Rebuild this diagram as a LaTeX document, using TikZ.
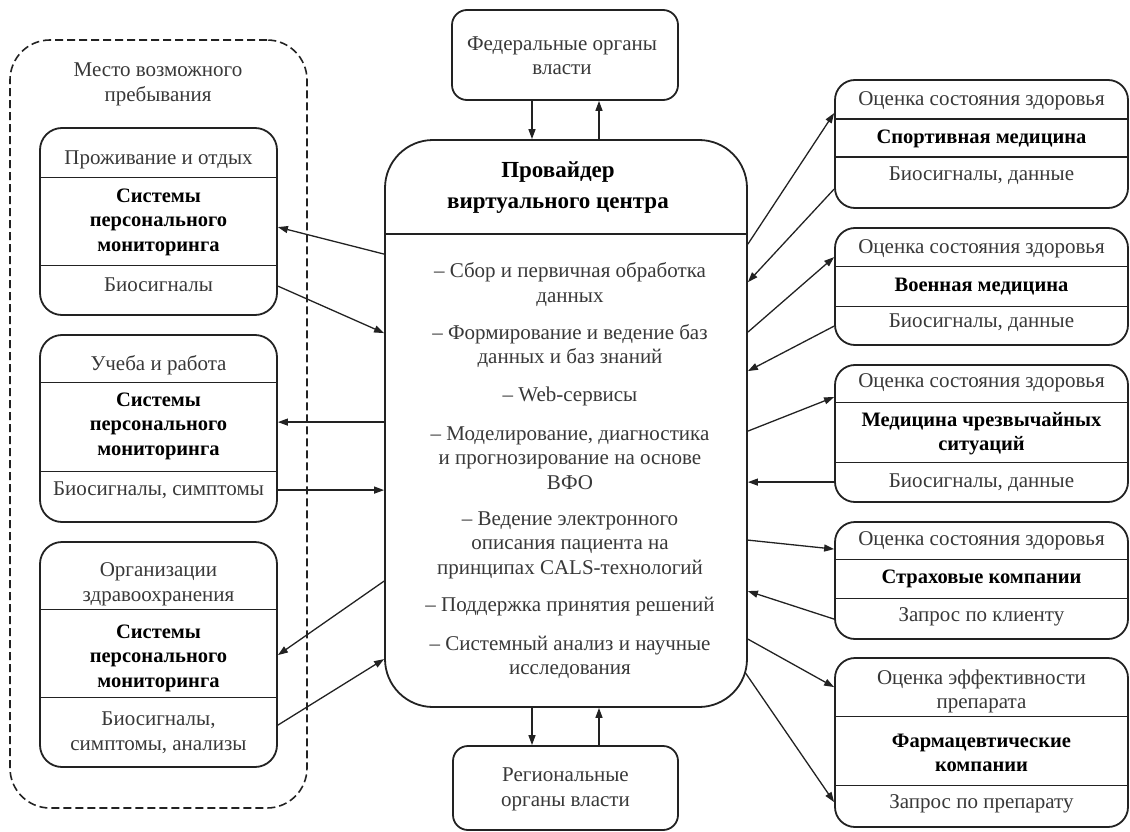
\documentclass[tikz,border=0pt]{standalone}
\usepackage{fontspec}
\setmainfont{Liberation Serif}
\usepackage{xcolor}
\usepackage{tikz}
\usetikzlibrary{arrows.meta,calc}
\definecolor{ink}{HTML}{222222}
\definecolor{txtgray}{HTML}{383838}

\begin{document}
\begin{tikzpicture}[
      x=1pt, y=-1pt,
      box/.style={draw=ink, line width=1.8pt, rounded corners=22pt, inner sep=0pt},
      rbox/.style={box, rounded corners=20pt, minimum width=293pt},
      lbox/.style={box, minimum width=237pt},
      sep/.style={draw=ink, line width=1.2pt},
      txt/.style={font=\fontsize{21}{24.5}\selectfont, text=txtgray, align=center, inner sep=0pt},
      bld/.style={font=\fontsize{20.5}{24.5}\selectfont\bfseries, text=black, align=center, inner sep=0pt},
      arr/.style={draw=ink, line width=1.3pt, -{Triangle[length=10pt,width=7pt]}}
  ]
    \useasboundingbox (0,0) rectangle (1130,832);
    % place of stay
    \node[draw=ink, line width=1.6pt, dash pattern=on 8pt off 4pt, rounded corners=40pt,
          minimum width=297pt, minimum height=768pt, inner sep=0pt] (place) at (158.5,424) {};
    \node[txt] (placet) at (158,84.5) {Место возможного\\пребывания};

    % left column
    \node[lbox, minimum height=187pt] (liv) at (158.5,221.5) {};
    \draw[sep] ($(liv.north west)+(0,50)$) -- ($(liv.north east)+(0,50)$);
    \draw[sep] ($(liv.north west)+(0,138)$) -- ($(liv.north east)+(0,138)$);
    \node[txt] (livh) at (158.5,160) {Проживание и отдых};
    \node[bld] (livb) at (158.5,222) {Системы\\персонального\\мониторинга};
    \node[txt] (livs) at (158.5,285) {Биосигналы};

    \node[lbox, minimum height=187pt] (stud) at (158.5,428.5) {};
    \draw[sep] ($(stud.north west)+(0,48)$) -- ($(stud.north east)+(0,48)$);
    \draw[sep] ($(stud.north west)+(0,137)$) -- ($(stud.north east)+(0,137)$);
    \node[txt] (studh) at (158.5,365) {Учеба и работа};
    \node[bld] (studb) at (158.5,426) {Системы\\персонального\\мониторинга};
    \node[txt] (studs) at (158.5,490) {Биосигналы, симптомы};

    \node[lbox, minimum height=225pt] (org) at (158.5,654.5) {};
    \draw[sep] ($(org.north west)+(0,68)$) -- ($(org.north east)+(0,68)$);
    \draw[sep] ($(org.north west)+(0,156)$) -- ($(org.north east)+(0,156)$);
    \node[txt] (orgh) at (158.5,584.5) {Организации\\здравоохранения};
    \node[bld] (orgb) at (158.5,658) {Системы\\персонального\\мониторинга};
    \node[txt] (orgs) at (158.5,732.5) {Биосигналы,\\симптомы, анализы};

    % centre
    \node[box, rounded corners=48pt, minimum width=362pt, minimum height=567pt] (prov) at (566,423.5) {};
    \draw[sep, line width=1.6pt] ($(prov.north west)+(0,95)$) -- ($(prov.north east)+(0,95)$);
    \node[font=\fontsize{23}{31}\selectfont\bfseries, align=center, inner sep=0pt] (provt) at (558,187.5) {Провайдер\\виртуального центра};
    \node[txt] (it1) at (570,284.5) {– Сбор и первичная обработка\\данных};
    \node[txt] (it2) at (570,346) {– Формирование и ведение баз\\данных и баз знаний};
    \node[txt] (it3) at (570,396) {– Web-сервисы};
    \node[txt] (it4) at (570,458) {– Моделирование, диагностика\\и прогнозирование на основе\\ВФО};
    \node[txt] (it5) at (570,545) {– Ведение электронного\\описания пациента на\\принципах CALS-технологий};
    \node[txt] (it6) at (570,607) {– Поддержка принятия решений};
    \node[txt] (it7) at (570,657.5) {– Системный анализ и научные\\исследования};

    \node[box, rounded corners=15pt, minimum width=226pt, minimum height=90pt] (fed) at (565,55) {};
    \node[txt] (fedt) at (562,55.5) {Федеральные органы\\власти};
    \node[box, rounded corners=15pt, minimum width=225pt, minimum height=84pt] (reg) at (565.5,788) {};
    \node[txt] (regt) at (565.5,789.5) {Региональные\\органы власти};

    % right column
    \node[rbox, minimum height=128pt] (sport) at (981.5,144) {};
    \draw[sep] ($(sport.north west)+(0,40)$) -- ($(sport.north east)+(0,40)$);
    \draw[sep] ($(sport.north west)+(0,78)$) -- ($(sport.north east)+(0,78)$);
    \node[txt] (sporth) at (981.5,101) {Оценка состояния здоровья};
    \node[bld] (sportb) at (981.5,139) {Спортивная медицина};
    \node[txt] (sports) at (981.5,176) {Биосигналы, данные};

    \node[rbox, minimum height=117pt] (mil) at (981.5,286.5) {};
    \draw[sep] ($(mil.north west)+(0,39)$) -- ($(mil.north east)+(0,39)$);
    \draw[sep] ($(mil.north west)+(0,79)$) -- ($(mil.north east)+(0,79)$);
    \node[txt] (milh) at (981.5,249) {Оценка состояния здоровья};
    \node[bld] (milb) at (981.5,287) {Военная медицина};
    \node[txt] (mils) at (981.5,323) {Биосигналы, данные};

    \node[rbox, minimum height=137pt] (emer) at (981.5,433.5) {};
    \draw[sep] ($(emer.north west)+(0,38)$) -- ($(emer.north east)+(0,38)$);
    \draw[sep] ($(emer.north west)+(0,98)$) -- ($(emer.north east)+(0,98)$);
    \node[txt] (emerh) at (981.5,383) {Оценка состояния здоровья};
    \node[bld] (emerb) at (981.5,433.5) {Медицина чрезвычайных\\ситуаций};
    \node[txt] (emers) at (981.5,483) {Биосигналы, данные};

    \node[rbox, minimum height=117pt] (ins) at (981.5,580.5) {};
    \draw[sep] ($(ins.north west)+(0,38)$) -- ($(ins.north east)+(0,38)$);
    \draw[sep] ($(ins.north west)+(0,77)$) -- ($(ins.north east)+(0,77)$);
    \node[txt] (insh) at (981.5,541) {Оценка состояния здоровья};
    \node[bld] (insb) at (981.5,579) {Страховые компании};
    \node[txt] (inss) at (981.5,617) {Запрос по клиенту};

    \node[rbox, minimum height=169pt] (pharm) at (981.5,742.5) {};
    \draw[sep] ($(pharm.north west)+(0,59)$) -- ($(pharm.north east)+(0,59)$);
    \draw[sep] ($(pharm.north west)+(0,128)$) -- ($(pharm.north east)+(0,128)$);
    \node[txt] (pharmh) at (981.5,691.5) {Оценка эффективности\\препарата};
    \node[bld] (pharmb) at (981.5,753) {Фармацевтические\\компании};
    \node[txt] (pharms) at (981.5,804) {Запрос по препарату};

    % connectors
    \draw[arr] ($(fed.south)+(-33,0)$) -- ($(prov.north)+(-34,0)$);
    \draw[arr] ($(prov.north)+(33,0)$) -- ($(fed.south)+(34,0)$);
    \draw[arr] ($(prov.south)+(-34,0)$) -- ($(reg.north)+(-33.5,0)$);
    \draw[arr] ($(reg.north)+(33.5,0)$) -- ($(prov.south)+(33,0)$);

    \draw[arr] ($(prov.north west)+(0,115)$) -- ($(liv.north east)+(0,100)$);
    \draw[arr] ($(liv.north east)+(0,159)$) -- ($(prov.north west)+(0,194)$);
    \draw[arr] ($(prov.north west)+(0,283)$) -- ($(stud.north east)+(0,88)$);
    \draw[arr] ($(stud.north east)+(0,156)$) -- ($(prov.north west)+(0,351)$);
    \draw[arr] ($(prov.north west)+(0,442)$) -- ($(org.north east)+(0,114)$);
    \draw[arr] ($(org.north east)+(0,184)$) -- ($(prov.north west)+(0,520)$);

    \draw[arr] ($(prov.north east)+(0,105)$) -- ($(sport.north west)+(0,34)$);
    \draw[arr] ($(sport.north west)+(0,110)$) -- ($(prov.north east)+(0,143)$);
    \draw[arr] ($(prov.north east)+(0,193)$) -- ($(mil.north west)+(0,30)$);
    \draw[arr] ($(mil.north west)+(0,99)$) -- ($(prov.north east)+(0,232)$);
    \draw[arr] ($(prov.north east)+(0,292)$) -- ($(emer.north west)+(0,33)$);
    \draw[arr] ($(emer.north west)+(0,118)$) -- ($(prov.north east)+(0,343)$);
    \draw[arr] ($(prov.north east)+(0,401)$) -- ($(ins.north west)+(0,28)$);
    \draw[arr] ($(ins.north west)+(0,98)$) -- ($(prov.north east)+(0,452)$);
    \draw[arr] ($(prov.north east)+(0,500)$) -- ($(pharm.north west)+(0,30)$);
    \draw[arr] ($(prov.north east)+(-3,533)$) -- ($(pharm.north west)+(0,145)$);
  \end{tikzpicture}
\end{document}
